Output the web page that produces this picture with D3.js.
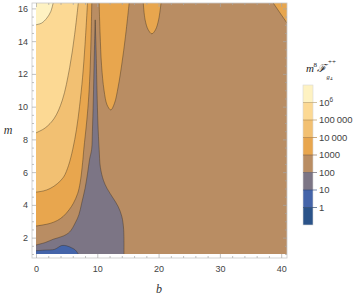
<!DOCTYPE html>
<html>
<head>
<meta charset="utf-8">
<script src="https://cdn.jsdelivr.net/npm/d3@7"></script>
<style>
  body { margin: 0; background: #fff; }
  svg { display: block; }
  .tick text { font-family: "Liberation Sans", Arial, sans-serif; font-size: 9px; fill: #444; }
</style>
</head>
<body>
<svg id="chart" width="359" height="301"></svg>
<script>
// axis ticks
const bTicks = [0, 10, 20, 30, 40];
const bMinor = [2, 4, 6, 8, 12, 14, 16, 18, 22, 24, 26, 28, 32, 34, 36, 38];
const mTicks = [2, 4, 6, 8, 10, 12, 14, 16];
const mMinor = [1, 1.5, 2.5, 3, 3.5, 4.5, 5, 5.5, 6.5, 7, 7.5, 8.5, 9, 9.5, 10.5, 11, 11.5, 12.5, 13, 13.5, 14.5, 15, 15.5];

// legend (top to bottom)
const levelLabels = ["10^6", "100 000", "10 000", "1000", "100", "10", "1"];
const levelColors = ["#fef2c2", "#fcd994", "#f2c072", "#e8a64e", "#b98d63", "#7c7585", "#4464a9", "#2b5389"];

// contour lines, [b, m]
const contour1e6 = [[0, 15.0], [0.9, 15.1], [1.75, 15.4], [2.4, 15.8], [2.8, 16.33]];
const contour1e5 = [[0, 8.4], [1.5, 8.7], [3, 9.3], [4.3, 10.4], [5.5, 12.4], [6.3, 14.4], [6.9, 16.33]];
const contour1e4 = [[0, 4.78], [1.2, 4.85], [2.3, 5.0], [3.5, 5.3], [4.5, 5.7], [5.3, 6.4], [6.0, 7.4],
                    [6.6, 8.6], [7.1, 10.0], [7.6, 11.8], [8.0, 13.8], [8.4, 16.33]];
const contour1e3 = [[0, 2.71], [1.2, 2.78], [2.3, 2.87], [3.5, 3.05], [4.45, 3.3], [5.4, 3.7], [6.1, 4.1],
                    [6.8, 4.7], [7.2, 5.35], [7.6, 6.57], [7.8, 7.4], [8.3, 9.2], [8.6, 10.6],
                    [8.85, 12.5], [9.0, 14.5], [9.1, 16.33]];
const uLeft = [[10.3, 16.33], [10.45, 14.5], [10.7, 12.5], [11.1, 11.0], [11.6, 10.1], [12.2, 9.8],
               [12.8, 10.2], [13.4, 11.2], [14.0, 12.6], [14.6, 14.3], [15.2, 16.33]];
const uMid = [[17.5, 16.33], [17.8, 15.3], [18.3, 14.7], [18.9, 14.45], [19.5, 14.7], [20.0, 15.3], [20.4, 16.33]];
const cornerTop = [[38.7, 16.33], [40.95, 15.1]];
const contour100 = [[0, 1.55], [1.5, 1.7], [2.8, 1.9], [4.45, 2.1], [5.5, 2.35], [6.4, 2.9], [7.0, 3.4],
                    [7.45, 4.1], [8.0, 5.0], [8.4, 5.9], [8.75, 6.8], [9.08, 7.4], [9.2, 8.5], [9.35, 10.4],
                    [9.5, 13.0], [9.6, 14.5], [9.66, 15.3], [9.72, 14.5], [9.8, 13.5], [9.95, 11],
                    [10.1, 9], [10.3, 7.4], [10.5, 6.3], [11.0, 5.5], [11.6, 5.0], [12.6, 4.4],
                    [13.4, 3.9], [14.0, 3.3], [14.3, 2.5], [14.35, 1.0]];
const contour10 = [[0, 1.2], [1.5, 1.24], [3.0, 1.28], [3.6, 1.4], [4.2, 1.52], [5.0, 1.5], [5.8, 1.38],
                   [6.4, 1.25], [6.9, 1.0]];

const bDomain = [0, 40.95];
const mDomain = [1.0, 16.33];

const svg = d3.select("#chart");
const x = d3.scaleLinear().domain(bDomain).range([36, 287]);
const y = d3.scaleLinear().domain(mDomain).range([254, 3]);
const frame = {left: 32, right: 287, top: 3, bottom: 258};

svg.append("clipPath").attr("id", "plotclip")
  .append("rect")
  .attr("x", x(bDomain[0])).attr("y", y(mDomain[1]))
  .attr("width", x(bDomain[1]) - x(bDomain[0]))
  .attr("height", y(mDomain[0]) - y(mDomain[1]));

const plot = svg.append("g").attr("clip-path", "url(#plotclip)");

// base level: 100 - 1000
plot.append("rect")
  .attr("x", x(bDomain[0])).attr("y", y(mDomain[1]))
  .attr("width", x(bDomain[1]) - x(bDomain[0]))
  .attr("height", y(mDomain[0]) - y(mDomain[1]))
  .attr("fill", levelColors[4]);

const smooth = d3.line().x(d => x(d[0])).y(d => y(d[1])).curve(d3.curveCatmullRom.alpha(0.5));
const straight = d3.line().x(d => x(d[0])).y(d => y(d[1]));

// each region: contour + straight closing points along the plot edge
const regions = [
  {pts: contour1e3, close: [[0, mDomain[1]]], color: levelColors[3]},
  {pts: uLeft, close: [], color: levelColors[3]},
  {pts: uMid, close: [], color: levelColors[3]},
  {pts: cornerTop, close: [[bDomain[1], mDomain[1]]], color: levelColors[3], linear: true},
  {pts: contour1e4, close: [[0, mDomain[1]]], color: levelColors[2]},
  {pts: contour1e5, close: [[0, mDomain[1]]], color: levelColors[1]},
  {pts: contour1e6, close: [[0, mDomain[1]]], color: levelColors[0]},
  {pts: contour100, close: [[0, mDomain[0]]], color: levelColors[5]},
  {pts: contour10, close: [[0, mDomain[0]]], color: levelColors[6]}
];

regions.forEach(r => {
  const gen = r.linear ? straight : smooth;
  let d = gen(r.pts);
  r.close.forEach(p => { d += "L" + x(p[0]) + "," + y(p[1]); });
  d += "Z";
  plot.append("path").attr("d", d).attr("fill", r.color);
  plot.append("path").attr("d", gen(r.pts))
    .attr("fill", "none")
    .attr("stroke", "#3a2e1e")
    .attr("stroke-opacity", 0.55)
    .attr("stroke-width", 0.75);
});

// frame
svg.append("rect")
  .attr("x", frame.left).attr("y", frame.top)
  .attr("width", frame.right - frame.left).attr("height", frame.bottom - frame.top)
  .attr("fill", "none").attr("stroke", "#c8c8c8").attr("stroke-width", 0.8);

function styleAxis(g) {
  g.select(".domain").remove();
  g.selectAll(".tick line").attr("stroke", "#a8a8a8").attr("stroke-width", 0.7);
}

svg.append("g").attr("transform", `translate(0,${frame.bottom})`)
  .call(d3.axisBottom(x).tickValues(bTicks).tickSize(-4).tickPadding(8))
  .call(styleAxis);
svg.append("g").attr("transform", `translate(0,${frame.bottom})`)
  .call(d3.axisBottom(x).tickValues(bMinor).tickSize(-2).tickFormat(""))
  .call(styleAxis);
svg.append("g").attr("transform", `translate(0,${frame.top})`)
  .call(d3.axisTop(x).tickValues(bTicks).tickSize(-4).tickFormat(""))
  .call(styleAxis);
svg.append("g").attr("transform", `translate(0,${frame.top})`)
  .call(d3.axisTop(x).tickValues(bMinor).tickSize(-2).tickFormat(""))
  .call(styleAxis);

svg.append("g").attr("transform", `translate(${frame.left},0)`)
  .call(d3.axisLeft(y).tickValues(mTicks).tickSize(-4).tickPadding(4))
  .call(styleAxis);
svg.append("g").attr("transform", `translate(${frame.left},0)`)
  .call(d3.axisLeft(y).tickValues(mMinor).tickSize(-2).tickFormat(""))
  .call(styleAxis);
svg.append("g").attr("transform", `translate(${frame.right},0)`)
  .call(d3.axisRight(y).tickValues(mTicks).tickSize(-4).tickFormat(""))
  .call(styleAxis);
svg.append("g").attr("transform", `translate(${frame.right},0)`)
  .call(d3.axisRight(y).tickValues(mMinor).tickSize(-2).tickFormat(""))
  .call(styleAxis);

// axis titles
const serif = "'Liberation Serif', 'DejaVu Serif', serif";
svg.append("text").attr("x", 8).attr("y", 134)
  .attr("text-anchor", "middle")
  .style("font-family", serif).style("font-style", "italic")
  .style("font-size", "12px").style("fill", "#333")
  .text("m");
svg.append("text").attr("x", 159).attr("y", 293)
  .attr("text-anchor", "middle")
  .style("font-family", serif).style("font-style", "italic")
  .style("font-size", "12px").style("fill", "#333")
  .text("b");

// legend
const legendY = d3.scaleBand().domain(d3.range(levelColors.length)).range([85, 225]).paddingInner(0);
const legend = svg.append("g");
legend.selectAll("rect.seg")
  .data(levelColors)
  .join("rect")
  .attr("class", "seg")
  .attr("x", 303).attr("width", 10)
  .attr("y", (d, i) => legendY(i))
  .attr("height", legendY.bandwidth())
  .attr("fill", d => d);
legend.append("rect")
  .attr("x", 303).attr("y", 85).attr("width", 10).attr("height", 140)
  .attr("fill", "none").attr("stroke", "#d8d8d8").attr("stroke-width", 0.6);

legend.selectAll("line.lvl")
  .data(levelLabels)
  .join("line")
  .attr("class", "lvl")
  .attr("x1", 303).attr("x2", 317)
  .attr("y1", (d, i) => legendY(i + 1)).attr("y2", (d, i) => legendY(i + 1))
  .attr("stroke", (d, i) => d3.color(levelColors[i + 1]).darker(0.9))
  .attr("stroke-opacity", 0.8)
  .attr("stroke-width", 0.8);

const lbl = legend.selectAll("text.lvl")
  .data(levelLabels)
  .join("text")
  .attr("class", "lvl")
  .attr("x", 319)
  .attr("y", (d, i) => legendY(i + 1) + 3.4)
  .style("font-family", "'Liberation Sans', Arial, sans-serif")
  .style("font-size", "9.5px").style("fill", "#444");
lbl.each(function(d) {
  const t = d3.select(this);
  if (d.includes("^")) {
    const [base, exp] = d.split("^");
    t.append("tspan").text(base);
    t.append("tspan").attr("dy", -4).style("font-size", "6.5px").text(exp);
  } else {
    t.text(d.replace(" ", "\u2009"));
  }
});

// legend title: m^8 F^{++}_{g4}, pieces placed side by side
const titleParts = [
  {text: "m", x: 306, y: 72, size: 11, italic: true},
  {text: "8", x: 313.5, y: 66.5, size: 7, italic: false},
  {text: "\u2131", x: 317, y: 72, size: 11, italic: true},
  {text: "++", x: 328, y: 64, size: 7, italic: false},
  {text: "g", x: 326.5, y: 79, size: 6.5, italic: true},
  {text: "4", x: 330, y: 80, size: 5, italic: false}
];
svg.append("g").selectAll("text")
  .data(titleParts)
  .join("text")
  .attr("x", d => d.x).attr("y", d => d.y)
  .style("font-family", serif)
  .style("font-style", d => d.italic ? "italic" : "normal")
  .style("font-size", d => d.size + "px")
  .style("fill", "#222")
  .text(d => d.text);
</script>
</body>
</html>
